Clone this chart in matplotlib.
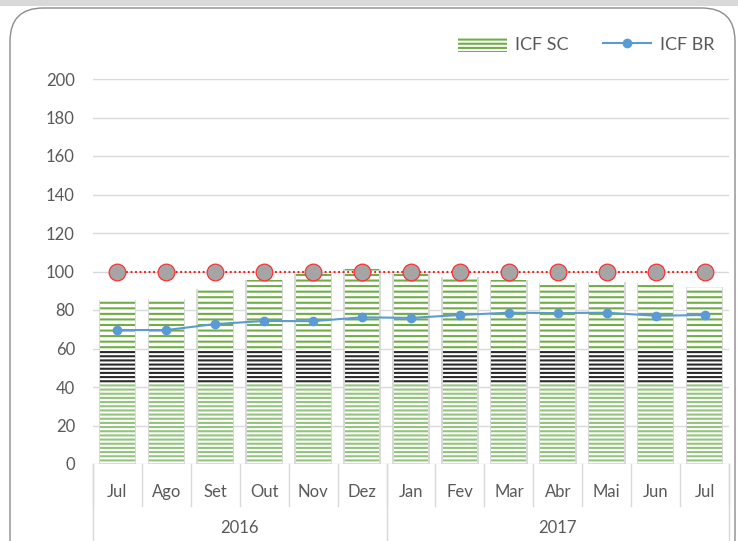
import matplotlib
matplotlib.use("Agg")
import matplotlib.pyplot as plt
from matplotlib.patches import FancyBboxPatch, Rectangle, Patch
from matplotlib.lines import Line2D
import matplotlib.transforms as mtransforms

months = ["Jul", "Ago", "Set", "Out", "Nov", "Dez", "Jan", "Fev", "Mar", "Abr", "Mai", "Jun", "Jul"]
years = ["2016", "2017"]
year_counts = [6, 7]
icf_sc = [85.3, 85.5, 90.7, 95.7, 98.6, 101.2, 98.6, 97.3, 95.5, 93.8, 94.7, 93.8, 92.1]
icf_br = [69.6, 69.6, 72.7, 74.3, 74.2, 76.2, 75.9, 77.4, 78.6, 78.4, 78.6, 77.0, 77.4]
ref_100 = [100] * 13
yticks = [0, 20, 40, 60, 80, 100, 120, 140, 160, 180, 200]

plt.rcParams['font.family'] = ['Lato', 'DejaVu Sans']
plt.rcParams['hatch.linewidth'] = 1.5
TXT = '#595959'
GREEN = '#70ad47'
LGREEN = '#93c47d'
BLUE = '#5b9bd5'
FS = 12

W, H = 738, 541
fig = plt.figure(figsize=(W / 100, H / 100), dpi=100)
fig.patch.set_facecolor('white')

# top gray strip and rounded border
fig.patches.append(Rectangle((0, 1 - 6 / H), 1, 6 / H, transform=fig.transFigure,
                             facecolor='#d9d9d9', edgecolor='none', zorder=0))
fig.patches.append(FancyBboxPatch((10 / W, -30 / H), 725 / W, (H - 8 + 30) / H,
                                  boxstyle="round,pad=0,rounding_size=0.045",
                                  transform=fig.transFigure, facecolor='none',
                                  edgecolor='#8c8c8c', linewidth=1.0, zorder=1,
                                  mutation_aspect=W / H))

ax = fig.add_axes([93 / W, 1 - 464 / H, (729 - 93) / W, (464 - 79) / H])
ax.set_facecolor('none')
x = list(range(len(months)))

ax.set_xlim(-0.5, len(months) - 0.5)
ax.set_ylim(0, 200)
ax.set_yticks(yticks)
ax.set_yticklabels([str(t) for t in yticks], color=TXT, fontsize=FS)
ax.tick_params(axis='y', length=0, pad=13)
ax.set_xticks([])
for s in ax.spines.values():
    s.set_visible(False)
ax.yaxis.grid(True, color='#d9d9d9', linewidth=1)
ax.set_axisbelow(True)

bw = 0.71
# soft shadow
ax.bar(x, icf_sc, width=bw + 0.06, color='#d9d9d9', edgecolor='none', zorder=2)
# lower light-green part
low = [min(v, 42) for v in icf_sc]
ax.bar(x, low, width=bw, facecolor='white', edgecolor=LGREEN, linewidth=0,
       hatch='----', zorder=3)
mid = [max(min(v, 60) - 42, 0) for v in icf_sc]
ax.bar(x, mid, bottom=42, width=bw, facecolor='white', edgecolor='#2b2b2b', linewidth=0,
       hatch='----', zorder=3)
top = [max(v - 60, 0) for v in icf_sc]
ax.bar(x, top, bottom=60, width=bw, facecolor='white', edgecolor=GREEN, linewidth=0,
       hatch='---', zorder=3)

# reference line at 100
ax.plot(x, ref_100, color='#ff0000', linestyle=(0, (1, 1.5)), linewidth=1.3, zorder=4)
ax.plot(x, ref_100, linestyle='none', marker='o', markersize=12, markerfacecolor='#a5a5a5',
        markeredgecolor='#ff3030', markeredgewidth=0.9, zorder=5)

# ICF BR line
ax.plot(x, icf_br, color=BLUE, linewidth=1.5, marker='o', markersize=6,
        markerfacecolor=BLUE, markeredgecolor=BLUE, zorder=6)

# multi-level category axis
trans = mtransforms.blended_transform_factory(ax.transData, fig.transFigure)
y0 = 1 - 464 / H
y_month_bot = 1 - 506 / H
y_bot = 0
for i in range(len(months) + 1):
    xb = i - 0.5
    ax.add_line(Line2D([xb, xb], [y0, y_month_bot], transform=trans, color='#d9d9d9',
                       linewidth=1, clip_on=False))
for i, m in enumerate(months):
    ax.text(i, 1 - 492 / H, m, transform=trans, ha='center', va='center',
            color=TXT, fontsize=FS)
start = 0
bounds = [0]
for name, n in zip(years, year_counts):
    ax.text(start + (n - 1) / 2, 1 - 528 / H, name, transform=trans, ha='center',
            va='center', color=TXT, fontsize=FS)
    start += n
    bounds.append(start)
for b in bounds:
    ax.add_line(Line2D([b - 0.5, b - 0.5], [y0, y_bot], transform=trans, color='#d9d9d9',
                       linewidth=1, clip_on=False))

# legend
handles = [Patch(facecolor='white', edgecolor=GREEN, hatch='----', linewidth=0, label='ICF SC'),
           Line2D([0], [0], color=BLUE, linewidth=1.5, marker='o', markersize=6, label='ICF BR')]
leg = fig.legend(handles=handles, loc='center', bbox_to_anchor=(586 / W, 1 - 45 / H),
                 ncol=2, frameon=False, fontsize=13, handlelength=2.7, handleheight=0.9,
                 columnspacing=1.9, handletextpad=0.45)
for t in leg.get_texts():
    t.set_color(TXT)

fig.savefig('out.png', dpi=100)
